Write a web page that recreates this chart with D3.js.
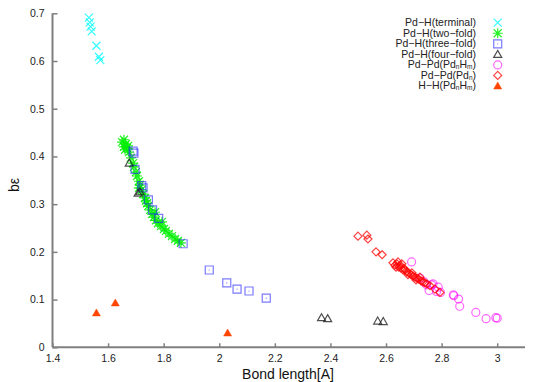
<!DOCTYPE html>
<html><head><meta charset="utf-8">
<script src="https://cdn.jsdelivr.net/npm/d3@7"></script>
<style>body{margin:0;background:#fff}svg{display:block}text{font-family:"Liberation Sans",Arial,sans-serif}</style>
</head><body><svg id="c" width="545" height="382"></svg>
<script>
// Data: [bond length (A), bε]
const terminal = [[1.531,0.691],[1.534,0.681],[1.537,0.672],[1.541,0.662],[1.558,0.632],[1.567,0.609],[1.572,0.602]];
const twoFold = [[1.650,0.430],[1.657,0.435],[1.664,0.426],[1.657,0.420],[1.668,0.418],[1.661,0.414],[1.672,0.422],[1.675,0.409],[1.682,0.397],[1.690,0.386],[1.693,0.378],[1.700,0.367],[1.704,0.359],[1.711,0.348],[1.714,0.340],[1.721,0.330],[1.726,0.321],[1.733,0.313],[1.740,0.302],[1.744,0.296],[1.751,0.288],[1.758,0.279],[1.765,0.273],[1.772,0.266],[1.779,0.260],[1.790,0.254],[1.801,0.248],[1.808,0.244],[1.819,0.238],[1.830,0.233],[1.841,0.227],[1.851,0.223],[1.862,0.219],[1.711,0.334],[1.736,0.307],[1.769,0.283],[1.794,0.263]];
const threeFold = [[1.690,0.411],[1.693,0.407],[1.697,0.373],[1.721,0.339],[1.726,0.334],[1.745,0.309],[1.760,0.288],[1.782,0.270],[1.870,0.217],[1.964,0.162],[2.027,0.135],[2.064,0.122],[2.107,0.118],[2.169,0.103]];
const fourFold = [[1.676,0.386],[1.715,0.326],[1.708,0.323],[2.368,0.062],[2.390,0.060],[2.570,0.055],[2.590,0.054]];
const pdPdH = [[2.692,0.179],[2.722,0.145],[2.737,0.137],[2.746,0.131],[2.764,0.131],[2.755,0.119],[2.769,0.133],[2.782,0.117],[2.788,0.126],[2.796,0.115],[2.842,0.110],[2.844,0.108],[2.861,0.101],[2.865,0.086],[2.923,0.073],[2.960,0.060],[2.995,0.062],[3.000,0.061]];
const pdPd = [[2.499,0.233],[2.531,0.235],[2.535,0.227],[2.564,0.200],[2.586,0.194],[2.625,0.177],[2.632,0.172],[2.639,0.175],[2.646,0.168],[2.654,0.166],[2.661,0.162],[2.668,0.162],[2.675,0.158],[2.682,0.156],[2.690,0.152],[2.697,0.149],[2.704,0.147],[2.711,0.145],[2.718,0.143],[2.726,0.139],[2.733,0.137],[2.740,0.135],[2.747,0.133],[2.636,0.168],[2.650,0.172],[2.664,0.166],[2.679,0.152],[2.693,0.156],[2.708,0.141],[2.722,0.147],[2.758,0.129],[2.776,0.122],[2.794,0.115],[2.643,0.179],[2.657,0.175]];
const hh = [[1.558,0.072],[1.626,0.093],[2.030,0.030]];
const xTicks = [1.4,1.6,1.8,2,2.2,2.4,2.6,2.8,3];
const yTicks = [0,0.1,0.2,0.3,0.4,0.5,0.6,0.7];
const seriesNames = [["Pd−H(terminal)"],["Pd−H(two−fold)"],["Pd−H(three−fold)"],["Pd−H(four−fold)"],["Pd−Pd(Pd","n","H","m",")"],["Pd−Pd(Pd","n",")"],["H−H(Pd","n","H","m",")"]];

const series = [
  {data:terminal, shape:"x", color:"#00ffff", op:0.8},
  {data:twoFold, shape:"star", color:"#00ee00", op:0.85},
  {data:threeFold, shape:"square", color:"#2222ff", op:0.6},
  {data:fourFold, shape:"tri", color:"#222222", op:0.8},
  {data:pdPdH, shape:"circle", color:"#ff00ff", op:0.6},
  {data:pdPd, shape:"diamond", color:"#ff0000", op:0.75},
  {data:hh, shape:"ftri", color:"#ff4500", op:1}
];

const svg = d3.select("#c");
const x = d3.scaleLinear().domain([1.4,3.1]).range([52.5,525]);
const y = d3.scaleLinear().domain([0,0.7]).range([347.3,13.3]);

function path(shape){
  const r=4;
  switch(shape){
    case "x": return `M${-r},${-r}L${r},${r}M${-r},${r}L${r},${-r}`;
    case "star": return `M${-r},${-r}L${r},${r}M${-r},${r}L${r},${-r}M0,${-r-1}L0,${r+1}M${-r-1},0L${r+1},0`;
    case "square": return `M${-r},${-r}H${r}V${r}H${-r}Z`;
    case "tri": case "ftri": return `M0,${-r}L${r},${r*0.75}L${-r},${r*0.75}Z`;
    case "diamond": return `M0,${-r}L${r},0L0,${r}L${-r},0Z`;
  }
}
function draw(g, s, px, py){
  if(s.shape==="circle"){
    g.append("circle").attr("cx",px).attr("cy",py).attr("r",4).attr("fill","none").attr("stroke",s.color).attr("stroke-width",1.2).attr("opacity",s.op);
  } else {
    g.append("path").attr("transform",`translate(${px},${py})`).attr("d",path(s.shape))
      .attr("fill",s.shape==="ftri"?s.color:"none").attr("stroke",s.color).attr("stroke-width",s.shape==="ftri"?0.5:1.2).attr("opacity",s.op);
    if(s.shape==="square") g.append("circle").attr("cx",px).attr("cy",py).attr("r",0.6).attr("fill",s.color).attr("opacity",s.op);
  }
}

// Axes
const axisColor="#808080";
const gx = svg.append("g").attr("transform","translate(0,347.3)")
  .call(d3.axisBottom(x).tickValues(xTicks).tickSize(-4).tickPadding(7).tickFormat(d3.format("")));
const gy = svg.append("g").attr("transform","translate(52.5,0)")
  .call(d3.axisLeft(y).tickValues(yTicks).tickSize(-5).tickPadding(8).tickFormat(d3.format("")));
[gx,gy].forEach(g=>{
  g.select(".domain").attr("stroke",axisColor).attr("stroke-width",2);
  g.selectAll(".tick line").attr("stroke",axisColor).attr("stroke-width",1.5);
  g.selectAll(".tick text").attr("fill","#222").style("font-size","10.5px");
});
gx.select(".domain").attr("d","M52.5,0H525");
gy.select(".domain").attr("d","M0,13.3V347.3");

// Points
const pg = svg.append("g");
series.forEach(s=>s.data.forEach(d=>draw(pg,s,x(d[0]),y(d[1]))));

// Axis titles
svg.append("text").attr("x",288).attr("y",379).attr("text-anchor","middle").style("font-size","14px").attr("fill","#111").text("Bond length[A]");
svg.append("text").attr("transform","translate(19,185) rotate(-90)").attr("text-anchor","middle").style("font-size","14px").attr("fill","#111").text("bε");

// Legend
const lg = svg.append("g");
seriesNames.forEach((parts,i)=>{
  const yy = 22.7 + i*10.55;
  const t = lg.append("text").attr("x",476).attr("y",yy+3.4).attr("text-anchor","end").style("font-size","10.5px").attr("fill","#222");
  parts.forEach((p,j)=>{
    const sub = parts.length>1 && (j===1||j===3);
    const ts = t.append("tspan").text(p);
    if(sub) ts.attr("dy",1).style("font-size","6.5px");
    else if(j>1) ts.attr("dy",-1);
  });
  draw(lg, series[i], 497.7, yy);
});
</script></body></html>
